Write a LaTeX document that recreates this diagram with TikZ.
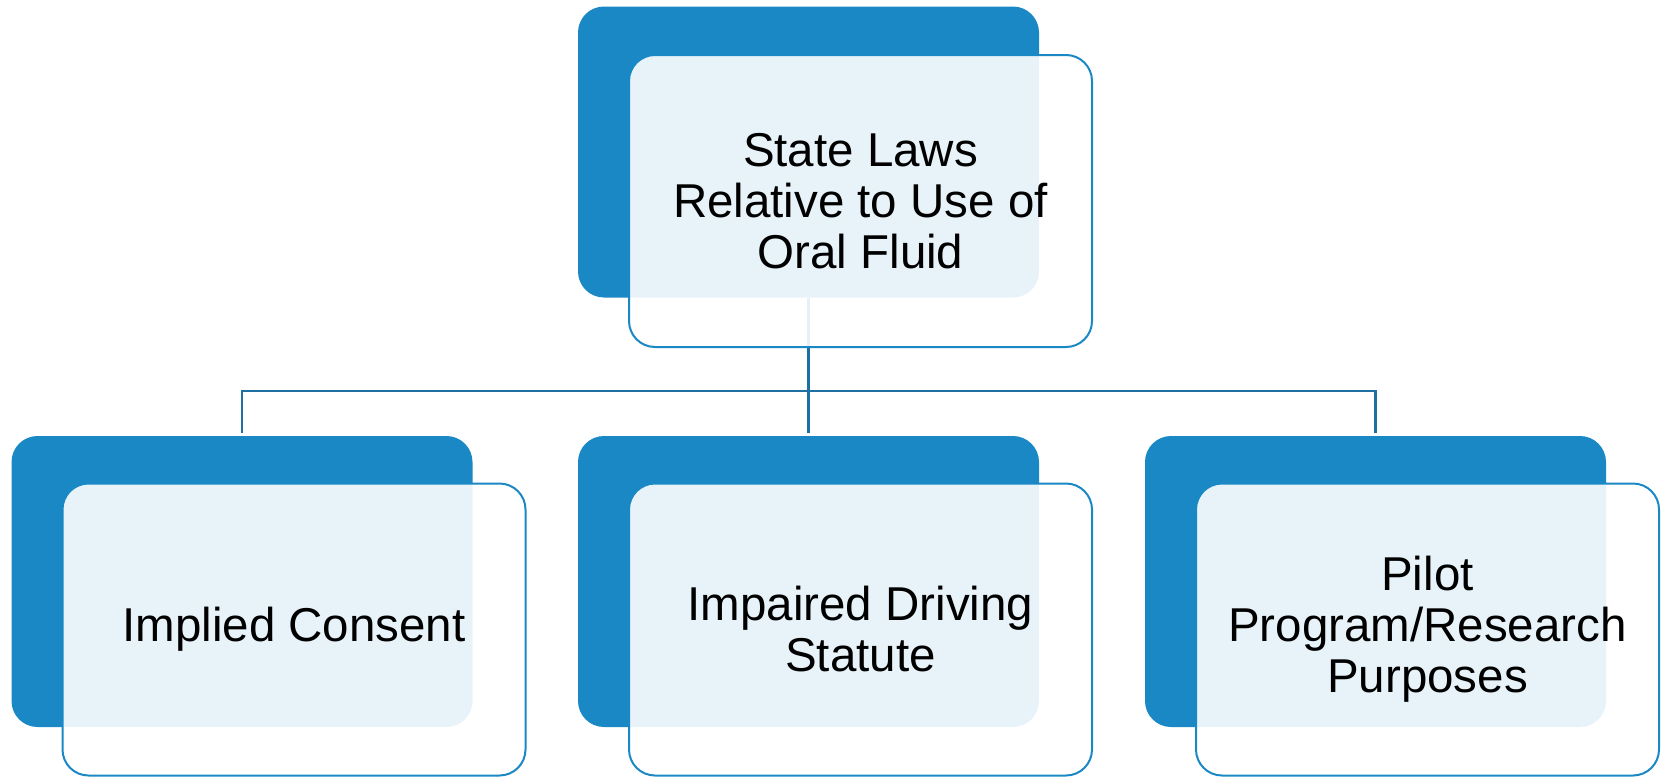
\documentclass[tikz,border=0pt]{standalone}
\usepackage{fontspec}
\setmainfont{Liberation Sans}
\definecolor{boxblue}{RGB}{26,136,196}
\definecolor{linkblue}{RGB}{31,112,162}
\def\boxshift{52pt}

\begin{document}
\begin{tikzpicture}[x=1pt,y=-1pt]
    \tikzstyle{back box}=[rectangle,rounded corners=26pt,fill=boxblue,minimum width=461pt,minimum height=291pt,inner sep=0pt]
    \tikzstyle{front box}=[back box,fill=white,fill opacity=0.9,text opacity=1,draw=boxblue,line width=2pt,minimum width=463pt,minimum height=292pt,align=center,font=\fontsize{47.5}{51}\selectfont]
    \tikzstyle{link}=[draw=linkblue,line width=2.75pt]
    \useasboundingbox (0,0) rectangle (1663,777);
    % Draw the back plates
      \node[back box] (Tb) at (808.5,152) {};
      \node[back box] (Lb) at (242,581.5) {};
      \node[back box] (Mb) at (808.5,581.5) {};
      \node[back box] (Rb) at (1375.5,581.5) {};
    % Connectors, under the front cards
      \coordinate (hub) at (808.5,391);
      \draw[link] (Tb.south) -- (hub);
      \foreach \child in {Lb,Mb,Rb}
        \draw[link,shorten >=3pt] (hub) -| (\child.north);
    % Draw the front cards with the texts
      \node[front box, xshift=\boxshift, yshift=-49pt] (T) at (Tb) {State Laws\\Relative to Use of\\Oral Fluid};
      \node[front box, xshift=\boxshift, yshift=-48pt] (L) at (Lb) {Implied Consent};
      \node[front box, xshift=\boxshift, yshift=-48pt] (M) at (Mb) {Impaired Driving\\Statute};
      \node[front box, xshift=\boxshift, yshift=-48pt] (R) at (Rb) {Pilot\\Program/Research\\Purposes};
\end{tikzpicture}
\end{document}
